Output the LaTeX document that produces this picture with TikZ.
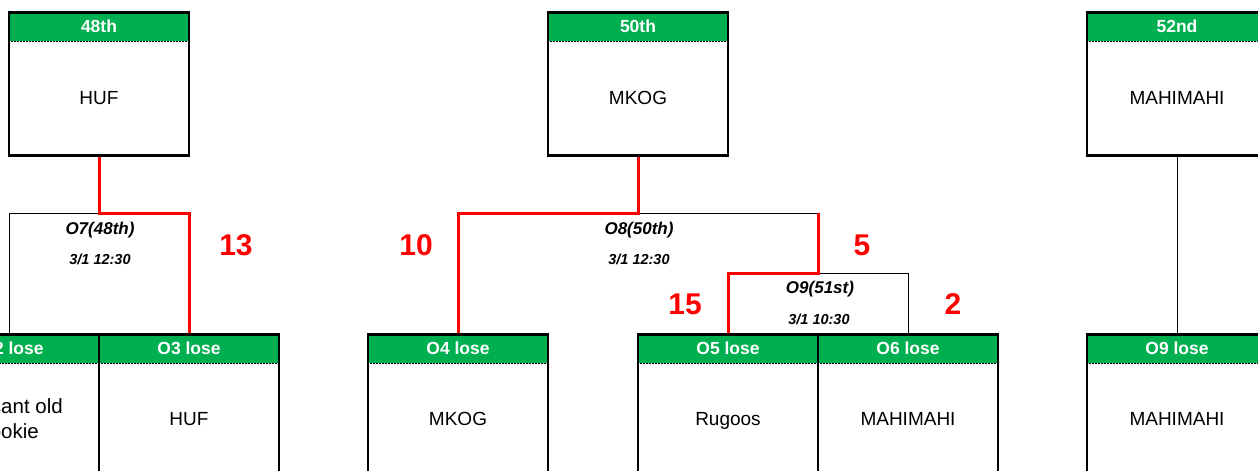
\documentclass[tikz,border=0pt]{standalone}
\usepackage{fontspec}
\setmainfont{Liberation Sans}
\definecolor{hdrgreen}{HTML}{00B050}
\definecolor{winred}{HTML}{FF0000}
\tikzset{
  boxframe/.style={draw=black, line width=2.8pt, minimum width=180pt, inner sep=0pt, anchor=north},
  hdr/.style={fill=hdrgreen, text=white, minimum width=180pt, minimum height=30pt, inner sep=0pt, anchor=north, font=\fontsize{17.5}{20}\selectfont\bfseries},
  hdrtext/.style={text=white, inner sep=0pt, font=\fontsize{17.5}{20}\selectfont\bfseries},
  teamname/.style={inner sep=0pt, align=center, text height=14pt, text depth=4pt, font=\fontsize{19}{25}\selectfont},
  sepline/.style={draw=black, line width=0.6pt, dashed, dash pattern=on 2pt off 1pt},
  gametitle/.style={inner sep=0pt, font=\fontsize{17}{20}\selectfont\bfseries\itshape},
  gamedate/.style={inner sep=0pt, font=\fontsize{14.5}{17}\selectfont\bfseries\itshape},
  score/.style={inner sep=0pt, text=winred, font=\fontsize{30}{34}\selectfont\bfseries},
  winline/.style={draw=winred, line width=3pt},
  thinline/.style={draw=black, line width=0.8pt}
}
% name, centre x, top y, height, header
\newcommand\teambox[5]{%
  \node[hdr] (#1h) at (#2,#3) {#5};
  \node[boxframe, minimum height=#4pt] (#1) at (#2,#3) {};
  \draw[sepline] ([yshift=-30pt]#1.north west) -- ([yshift=-30pt]#1.north east);
}
\begin{document}
\begin{tikzpicture}[x=1pt,y=-1pt]
\useasboundingbox (0,0) rectangle (1258,471);
\clip (0,0) rectangle (1258,471);
\fill[white] (0,0) rectangle (1258,471);

% junction coordinates
\coordinate (j7) at (99,213);
\coordinate (j8) at (638,213);
\coordinate (j9) at (818,273);

% thin bracket lines (beneath)
\coordinate (b2top) at (9,333);
\coordinate (b6top) at (908,333);
\draw[thinline] (b2top) |- (j7);
\draw[thinline] (j8) -- (j9 |- j8);
\draw[thinline] (j9) -| (b6top);
\draw[thinline] (1177,154) -- (1177,333);

% top boxes
\teambox{t48}{99}{11}{143}{48th}
\node[teamname] (t48t) at (99,99) {HUF};
\teambox{t50}{638}{11}{143}{50th}
\node[teamname] (t50t) at (638,99) {MKOG};
\teambox{t52}{1177}{11}{143}{52nd}
\node[teamname] (t52t) at (1177,99) {MAHIMAHI};

% bottom boxes
\teambox{b2}{9}{333}{200}{}
\node[hdrtext] (b2ht) at (12,348) {O2 lose};
\node[teamname, anchor=east, font=\fontsize{20.5}{25}\selectfont] (b2t1) at (63,408) {Pleasant old};
\node[teamname, anchor=east, font=\fontsize{20.5}{25}\selectfont] (b2t2) at (39,433) {Cookie};
\teambox{b3}{189}{333}{200}{O3 lose}
\node[teamname] (b3t) at (189,420) {HUF};
\teambox{b4}{458}{333}{200}{O4 lose}
\node[teamname] (b4t) at (458,420) {MKOG};
\teambox{b5}{728}{333}{200}{O5 lose}
\node[teamname] (b5t) at (728,420) {Rugoos};
\teambox{b6}{908}{333}{200}{O6 lose}
\node[teamname] (b6t) at (908,420) {MAHIMAHI};
\teambox{b9}{1177}{333}{200}{O9 lose}
\node[teamname] (b9t) at (1177,420) {MAHIMAHI};

% winner lines
\draw[winline] (t48.south) -- (j7) -| (b3.north);
\draw[winline] (t50.south) -- (j8) -| (b4.north);
\draw[winline] (b5.north) |- (j9) -- (j9 |- j8);

% game labels
\node[gametitle] (g7) at (100,230) {O7(48th)};
\node[gamedate] (d7) at (100,259) {3/1 12:30};
\node[gametitle] (g8) at (639,230) {O8(50th)};
\node[gamedate] (d8) at (639,259) {3/1 12:30};
\node[gametitle] (g9) at (820,289) {O9(51st)};
\node[gamedate] (d9) at (819,319) {3/1 10:30};

% scores
\node[score] (s13) at (236,245) {13};
\node[score] (s10) at (416,245) {10};
\node[score] (s5) at (862,245) {5};
\node[score] (s15) at (685,304) {15};
\node[score] (s2) at (953,304) {2};
\end{tikzpicture}
\end{document}
